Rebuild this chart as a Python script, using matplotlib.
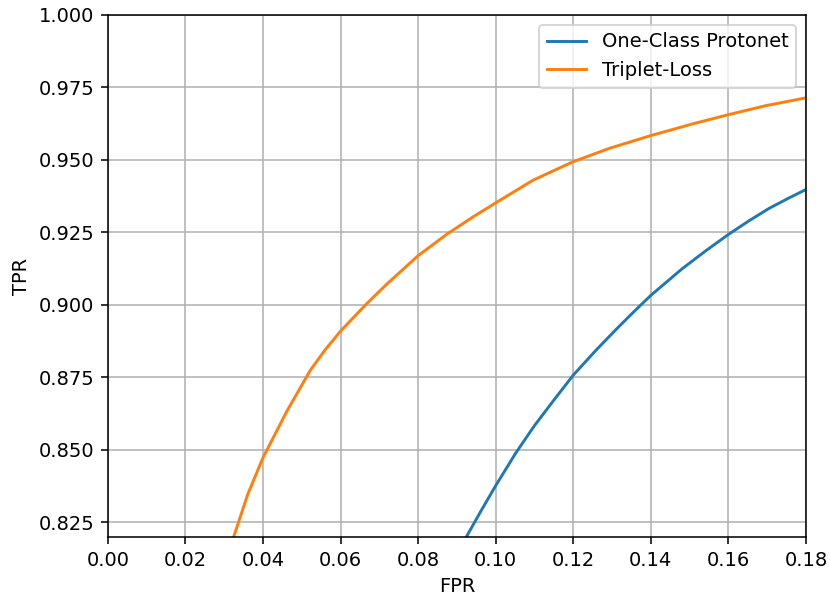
import matplotlib
matplotlib.use("Agg")
import matplotlib.pyplot as plt
import numpy as np

# One-Class Protonet ROC points
fpr_proto = [0.088, 0.0925, 0.096, 0.100, 0.1052, 0.110, 0.115, 0.120, 0.1258, 0.131, 0.1355, 0.140, 0.1481, 0.154, 0.160, 0.1653, 0.1705, 0.1755, 0.180, 0.186]
tpr_proto = [0.8105, 0.8202, 0.8285, 0.8377, 0.8490, 0.8584, 0.8672, 0.8758, 0.8843, 0.8915, 0.8975, 0.9033, 0.9125, 0.9185, 0.9243, 0.9290, 0.9333, 0.9368, 0.9398, 0.9435]

# Triplet-Loss ROC points
fpr_trip = [0.030, 0.0324, 0.036, 0.040, 0.0462, 0.0522, 0.056, 0.060, 0.0667, 0.072, 0.080, 0.0873, 0.0942, 0.100, 0.1096, 0.120, 0.1293, 0.140, 0.1507, 0.160, 0.1696, 0.180, 0.186]
tpr_trip = [0.812, 0.8199, 0.8345, 0.8474, 0.8635, 0.8775, 0.8845, 0.8910, 0.9004, 0.9073, 0.9170, 0.9243, 0.9304, 0.9352, 0.9430, 0.9494, 0.9540, 0.9584, 0.9624, 0.9656, 0.9687, 0.9714, 0.9730]

DPI = 140
fig, ax = plt.subplots(figsize=(830 / DPI, 596 / DPI), dpi=DPI)
ax.plot(fpr_proto, tpr_proto, color="#1f77b4", lw=1.5, label="One-Class Protonet")
ax.plot(fpr_trip, tpr_trip, color="#ff7f0e", lw=1.5, label="Triplet-Loss")
ax.set_xlim(0, 0.18)
ax.set_ylim(0.82, 1.0)
ax.set_xticks(np.arange(0, 0.181, 0.02))
ax.set_yticks(np.arange(0.825, 1.0001, 0.025))
ax.set_xlabel("FPR")
ax.set_ylabel("TPR")
ax.grid(True)
ax.legend(loc="upper right")
fig.subplots_adjust(left=0.130, right=0.971, top=0.975, bottom=0.099)
fig.savefig("out.png", dpi=DPI)
